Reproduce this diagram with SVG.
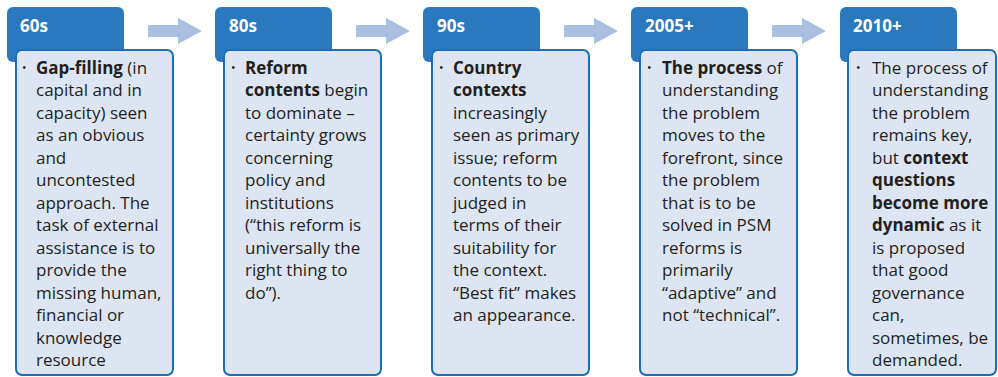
<svg xmlns="http://www.w3.org/2000/svg" width="998" height="377" viewBox="0 0 998 377">
<style>
.hdr{fill:#2a78be}
.body{fill:#dde5f2;stroke:#1f6db8;stroke-width:2}
.arr{fill:#a9bee1}
.ht{font-family:"Open Sans","Noto Sans",sans-serif;font-weight:bold;font-size:17px;fill:#ffffff}
.bt{font-family:"Open Sans","Noto Sans",sans-serif;font-size:17px;fill:#231f20}
.bul{font-family:"Open Sans","Noto Sans",sans-serif;font-size:12px;fill:#231f20}
.b{font-weight:bold}
</style>
<rect width="998" height="377" fill="#ffffff"/>
<g id="connectors">
<polygon class="arr" points="148,25 178,25 178,18 202,31 178,44 178,37 148,37"/>
<polygon class="arr" points="356,25 386,25 386,18 410,31 386,44 386,37 356,37"/>
<polygon class="arr" points="564,25 594,25 594,18 618,31 594,44 594,37 564,37"/>
<polygon class="arr" points="772,25 802,25 802,18 826,31 802,44 802,37 772,37"/>
</g>
<g id="n60s">
<rect class="hdr" x="7" y="7" width="117" height="55" rx="6"/>
<text class="ht" x="20" y="32">60s</text>
<rect class="body" x="16" y="50" width="157" height="325" rx="6"/>
<text class="bul" x="22" y="72">•</text>
<text class="bt" x="36" y="73.5"><tspan class="b">Gap-filling</tspan> (in<tspan x="36" dy="22.5">capital and in</tspan><tspan x="36" dy="22.5">capacity) seen</tspan><tspan x="36" dy="22.5">as an obvious</tspan><tspan x="36" dy="22.5">and</tspan><tspan x="36" dy="22.5">uncontested</tspan><tspan x="36" dy="22.5">approach. The</tspan><tspan x="36" dy="22.5">task of external</tspan><tspan x="36" dy="22.5">assistance is to</tspan><tspan x="36" dy="22.5">provide the</tspan><tspan x="36" dy="22.5">missing human,</tspan><tspan x="36" dy="22.5">financial or</tspan><tspan x="36" dy="22.5">knowledge</tspan><tspan x="36" dy="22.5">resource</tspan></text>
</g>
<g id="n80s">
<rect class="hdr" x="215" y="7" width="117" height="55" rx="6"/>
<text class="ht" x="229" y="32">80s</text>
<rect class="body" x="224" y="50" width="157" height="325" rx="6"/>
<text class="bul" x="231" y="72">•</text>
<text class="bt" x="245" y="73.5"><tspan class="b">Reform</tspan><tspan x="245" dy="22.5" class="b">contents</tspan> begin<tspan x="245" dy="22.5">to dominate –</tspan><tspan x="245" dy="22.5">certainty grows</tspan><tspan x="245" dy="22.5">concerning</tspan><tspan x="245" dy="22.5">policy and</tspan><tspan x="245" dy="22.5">institutions</tspan><tspan x="245" dy="22.5">(“this reform is</tspan><tspan x="245" dy="22.5">universally the</tspan><tspan x="245" dy="22.5">right thing to</tspan><tspan x="245" dy="22.5">do”).</tspan></text>
</g>
<g id="n90s">
<rect class="hdr" x="423" y="7" width="117" height="55" rx="6"/>
<text class="ht" x="437" y="32">90s</text>
<rect class="body" x="432" y="50" width="157" height="325" rx="6"/>
<text class="bul" x="439" y="72">•</text>
<text class="bt" x="453" y="73.5"><tspan class="b">Country</tspan><tspan x="453" dy="22.5" class="b">contexts</tspan><tspan x="453" dy="22.5">increasingly</tspan><tspan x="453" dy="22.5">seen as primary</tspan><tspan x="453" dy="22.5">issue; reform</tspan><tspan x="453" dy="22.5">contents to be</tspan><tspan x="453" dy="22.5">judged in</tspan><tspan x="453" dy="22.5">terms of their</tspan><tspan x="453" dy="22.5">suitability for</tspan><tspan x="453" dy="22.5">the context.</tspan><tspan x="453" dy="22.5">“Best fit” makes</tspan><tspan x="453" dy="22.5">an appearance.</tspan></text>
</g>
<g id="n2005">
<rect class="hdr" x="631" y="7" width="117" height="55" rx="6"/>
<text class="ht" x="645" y="32">2005+</text>
<rect class="body" x="640" y="50" width="157" height="325" rx="6"/>
<text class="bul" x="647" y="72">•</text>
<text class="bt" x="662" y="73.5"><tspan class="b">The process</tspan> of<tspan x="662" dy="22.5">understanding</tspan><tspan x="662" dy="22.5">the problem</tspan><tspan x="662" dy="22.5">moves to the</tspan><tspan x="662" dy="22.5">forefront, since</tspan><tspan x="662" dy="22.5">the problem</tspan><tspan x="662" dy="22.5">that is to be</tspan><tspan x="662" dy="22.5">solved in PSM</tspan><tspan x="662" dy="22.5">reforms is</tspan><tspan x="662" dy="22.5">primarily</tspan><tspan x="662" dy="22.5">“adaptive” and</tspan><tspan x="662" dy="22.5">not “technical”.</tspan></text>
</g>
<g id="n2010">
<rect class="hdr" x="840" y="7" width="117" height="55" rx="6"/>
<text class="ht" x="853" y="32">2010+</text>
<rect class="body" x="848" y="50" width="148" height="325" rx="6"/>
<text class="bul" x="856" y="72">•</text>
<text class="bt" x="872" y="73.5">The process of<tspan x="872" dy="22.5">understanding</tspan><tspan x="872" dy="22.5">the problem</tspan><tspan x="872" dy="22.5">remains key,</tspan><tspan x="872" dy="22.5">but </tspan><tspan class="b">context</tspan><tspan x="872" dy="22.5" class="b">questions</tspan><tspan x="872" dy="22.5" class="b">become more</tspan><tspan x="872" dy="22.5" class="b">dynamic</tspan> as it<tspan x="872" dy="22.5">is proposed</tspan><tspan x="872" dy="22.5">that good</tspan><tspan x="872" dy="22.5">governance</tspan><tspan x="872" dy="22.5">can,</tspan><tspan x="872" dy="22.5">sometimes, be</tspan><tspan x="872" dy="22.5">demanded.</tspan></text>
</g>
</svg>
